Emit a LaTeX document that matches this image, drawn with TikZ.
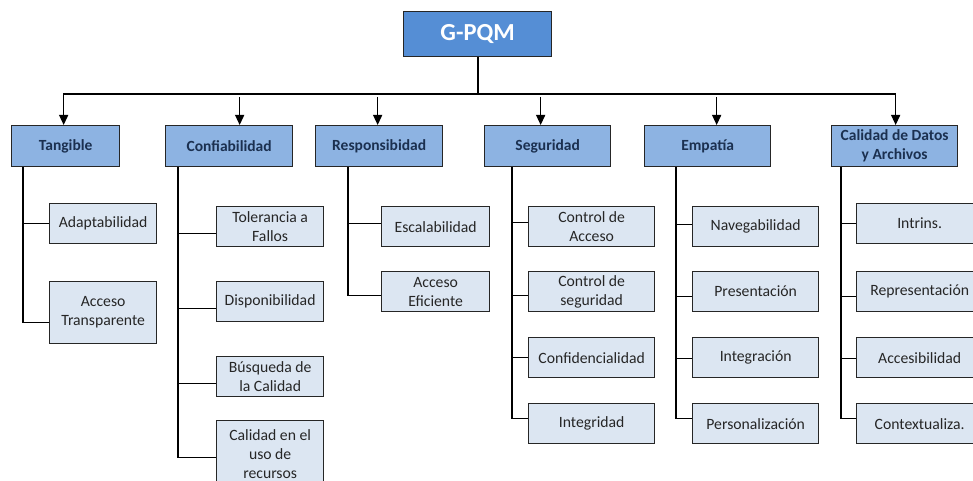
\documentclass[tikz,border=0pt]{standalone}
\usepackage{fontspec}
\setmainfont{Carlito}
\usetikzlibrary{arrows.meta}
\definecolor{rootfill}{HTML}{558ED5}
\definecolor{catfill}{HTML}{8DB3E2}
\definecolor{itemfill}{HTML}{DCE6F2}
\definecolor{catText}{HTML}{1B3050}
\definecolor{itemText}{HTML}{262626}
\definecolor{edge}{HTML}{262626}
\begin{document}
\begin{tikzpicture}[x=1pt,y=-1pt,
  box/.style={draw=edge, line width=1.3pt, inner sep=0pt, anchor=north west, align=center},
  rootbox/.style={box, fill=rootfill, text=white, font=\fontsize{24.5}{28}\selectfont\bfseries},
  catbox/.style={box, fill=catfill, text=catText, minimum width=126pt, minimum height=41pt,
    font=\fontsize{15.5}{19}\selectfont\bfseries},
  itembox/.style={box, fill=itemfill, text=itemText, minimum width=126pt, minimum height=40pt,
    font=\fontsize{15.7}{19}\selectfont},
  link/.style={draw=black, line width=1.3pt},
  arr/.style={link, -{Triangle[width=9pt,length=10pt]}}]
\useasboundingbox (0,0) rectangle (973,481);

% root
\node[rootbox, minimum width=148pt, minimum height=45pt] (root) at (403,11) {G-PQM};

% categories
\node[catbox, minimum width=108pt] (tang) at (11,125) {Tangible};
\node[catbox, minimum width=127pt] (conf) at (165,125) {Confiabilidad};
\node[catbox, minimum width=127pt] (resp) at (315,125) {Responsibidad};
\node[catbox] (seg) at (484,125) {Seguridad};
\node[catbox] (emp) at (644,125) {Empatía};
\node[catbox] (cal) at (831,125) {Calidad de Datos\\y Archivos};

% items: Tangible
\node[itembox, minimum width=107pt] (adapt) at (49,203) {Adaptabilidad};
\node[itembox, minimum width=107pt, minimum height=62pt] (acct) at (49,281) {Acceso\\Transparente};
% items: Confiabilidad
\node[itembox, minimum width=107pt] (tol) at (216,206) {Tolerancia a\\Fallos};
\node[itembox, minimum width=107pt] (disp) at (216,281) {Disponibilidad};
\node[itembox, minimum width=107pt] (busq) at (216,356) {Búsqueda de\\la Calidad};
\node[itembox, minimum width=107pt, minimum height=66pt] (uso) at (216,420) {Calidad en el\\uso de\\recursos};
% items: Responsibidad
\node[itembox, minimum width=108pt] (esc) at (381,206) {Escalabilidad};
\node[itembox, minimum width=108pt] (acef) at (381,271) {Acceso\\Eficiente};
% items: Seguridad
\node[itembox] (cacc) at (528,206) {Control de\\Acceso};
\node[itembox] (cseg) at (528,271) {Control de\\seguridad};
\node[itembox] (confi) at (528,337) {Confidencialidad};
\node[itembox] (integ) at (528,403) {Integridad};
% items: Empatía
\node[itembox] (nav) at (692,206) {Navegabilidad};
\node[itembox] (pres) at (692,271) {Presentación};
\node[itembox] (intg) at (692,337) {Integración};
\node[itembox] (pers) at (692,403) {Personalización};
% items: Calidad de Datos y Archivos
\node[itembox] (intr) at (856,203) {Intrins.};
\node[itembox] (repr) at (856,271) {Representación};
\node[itembox] (acces) at (856,337) {Accesibilidad};
\node[itembox] (ctx) at (856,403) {Contextualiza.};

% bus from the root to the categories
\coordinate (bus) at (478,94);
\coordinate (busb) at (478,97);
\draw[link] (root.south -| bus) -- (bus);
\draw[link, {Triangle[width=9pt,length=10pt]}-{Triangle[width=9pt,length=10pt]}]
  ([xshift=-2pt]tang.north) |- (bus) -| ([xshift=1pt]cal.north);
\draw[arr] ([xshift=10.5pt]conf.north |- busb) -- ([xshift=10.5pt]conf.north);
\draw[arr] ([xshift=-1.5pt]resp.north |- busb) -- ([xshift=-1.5pt]resp.north);
\draw[arr] ([xshift=-7pt]seg.north |- busb) -- ([xshift=-7pt]seg.north);
\draw[arr] ([xshift=9pt]emp.north |- busb) -- ([xshift=9pt]emp.north);

% trunks to the items
\coordinate (tT) at ([xshift=12pt]tang.south west);
\draw[link] (tT) |- (adapt.west) (tT) |- ([yshift=-10pt]acct.west);

\coordinate (tC) at ([xshift=13pt]conf.south west);
\draw[link] (tC) |- ([yshift=-7pt]tol.west) (tC) |- ([yshift=-7pt]disp.west)
  (tC) |- ([yshift=-7pt]busq.west) (tC) |- ([yshift=-4pt]uso.west);

\coordinate (tR) at ([xshift=33pt]resp.south west);
\draw[link] (tR) |- ([yshift=3pt]esc.west) (tR) |- ([yshift=-4pt]acef.west);

\coordinate (tS) at ([xshift=28pt]seg.south west);
\draw[link] (tS) |- ([yshift=4pt]cacc.west) (tS) |- ([yshift=-4pt]cseg.west)
  (tS) |- (confi.west) (tS) |- ([yshift=5pt]integ.west);

\coordinate (tE) at ([xshift=32pt]emp.south west);
\draw[link] (tE) |- ([yshift=2pt]nav.west) (tE) |- ([yshift=-5pt]pres.west)
  (tE) |- ([yshift=-1pt]intg.west) (tE) |- ([yshift=5pt]pers.west);

\coordinate (tD) at ([xshift=10pt]cal.south west);
\draw[link] (tD) |- (intr.west) (tD) |- ([yshift=-5pt]repr.west)
  (tD) |- ([yshift=-1pt]acces.west) (tD) |- ([yshift=5pt]ctx.west);
\end{tikzpicture}
\end{document}
